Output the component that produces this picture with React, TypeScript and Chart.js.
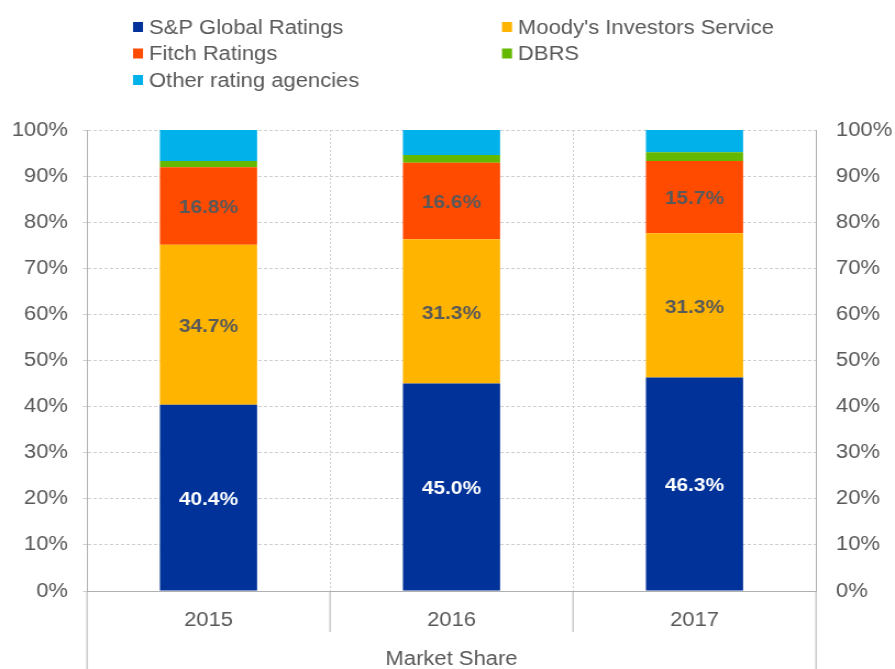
import React, { useEffect, useRef } from "react";
import { Chart, registerables } from "chart.js";

Chart.register(...registerables);

const categories = ["2015", "2016", "2017"];
const spValues = [40.4, 45.0, 46.3];
const moodysValues = [34.7, 31.3, 31.3];
const fitchValues = [16.8, 16.6, 15.7];
const dbrsValues = [1.4, 1.7, 1.9];
const otherValues = [6.7, 5.4, 4.8];
const seriesLabels = [
  "S&P Global Ratings",
  "Moody's Investors Service",
  "Fitch Ratings",
  "DBRS",
  "Other rating agencies",
];
const seriesColors = ["#003299", "#FFB400", "#FF4B00", "#65B800", "#00B1EA"];
const labelledSeries = [0, 1, 2];
const axisTitle = "Market Share";
const yMin = 0;
const yMax = 100;
const yStep = 10;

// The reference is rendered slightly wide: draw on a narrower canvas and stretch it horizontally.
const VIEW_W = 895;
const VIEW_H = 669;
const CANVAS_W = 814;
const SX = VIEW_W / CANVAS_W;
const px = (v: number) => v / SX; // display x-distance -> canvas x-distance

const FONT = "'Liberation Sans', Arial, sans-serif";
const TEXT = "#595959";
const GRID = "#cfcfcf";
const AXIS = "#b0b0b0";

const legendPlugin = {
  id: "gridLegend",
  afterDraw(chart: any) {
    const ctx = chart.ctx;
    const colX = [px(133), px(502)];
    const rowY = [27, 53.5, 80];
    ctx.save();
    ctx.font = `20px ${FONT}`;
    ctx.textBaseline = "middle";
    ctx.textAlign = "left";
    chart.data.datasets.forEach((ds: any, i: number) => {
      const x = colX[i % 2];
      const y = rowY[Math.floor(i / 2)];
      ctx.fillStyle = ds.backgroundColor;
      ctx.fillRect(x, y - 5, px(10), 10);
      ctx.fillStyle = TEXT;
      ctx.fillText(ds.label, x + px(16), y + 1);
    });
    ctx.restore();
  },
};

const separatorPlugin = {
  id: "separators",
  afterDraw(chart: any) {
    const ctx = chart.ctx;
    const xs = chart.scales.x;
    const area = chart.chartArea;
    ctx.save();
    ctx.strokeStyle = AXIS;
    ctx.lineWidth = 1;
    ctx.beginPath();
    for (let i = 0; i < categories.length - 1; i++) {
      const bx = (xs.getPixelForTick(i) + xs.getPixelForTick(i + 1)) / 2;
      ctx.moveTo(bx, area.bottom);
      ctx.lineTo(bx, area.bottom + 41);
    }
    [area.left, area.right].forEach((edge: number) => {
      ctx.moveTo(edge, area.bottom);
      ctx.lineTo(edge, chart.height);
    });
    ctx.stroke();
    ctx.restore();
  },
};

const valueLabelPlugin = {
  id: "valueLabels",
  afterDatasetsDraw(chart: any) {
    const ctx = chart.ctx;
    ctx.save();
    ctx.font = `bold 19px ${FONT}`;
    ctx.textAlign = "center";
    ctx.textBaseline = "middle";
    labelledSeries.forEach((di) => {
      const meta = chart.getDatasetMeta(di);
      const data = chart.data.datasets[di].data;
      meta.data.forEach((el: any, j: number) => {
        const p = el.getProps(["x", "y", "base"], true);
        ctx.fillStyle = di === 0 ? "#ffffff" : TEXT;
        ctx.fillText(`${Number(data[j]).toFixed(1)}%`, p.x, (p.y + p.base) / 2 + 2);
      });
    });
    ctx.restore();
  },
};

export default function App() {
  const canvasRef = useRef<HTMLCanvasElement | null>(null);

  useEffect(() => {
    if (!canvasRef.current) return;
    const values = [spValues, moodysValues, fitchValues, dbrsValues, otherValues];
    const chart = new Chart(canvasRef.current, {
      type: "bar",
      data: {
        labels: categories,
        datasets: values.map((v, i) => ({
          label: seriesLabels[i],
          data: v,
          backgroundColor: seriesColors[i],
          borderWidth: 0,
          yAxisID: "y",
          categoryPercentage: 1,
          barPercentage: 0.4,
        })),
      },
      options: {
        responsive: false,
        animation: false,
        devicePixelRatio: 1,
        layout: { padding: { top: 130, left: 0, right: 0, bottom: 0 } },
        plugins: {
          legend: { display: false },
          tooltip: { enabled: false },
          title: { display: false },
        },
        scales: {
          x: {
            stacked: true,
            offset: true,
            grid: {
              display: true,
              offset: true,
              drawOnChartArea: true,
              drawTicks: false,
              color: GRID,
            },
            border: { display: true, color: AXIS, dash: [2, 2] },
            ticks: {
              color: TEXT,
              font: { family: FONT, size: 20 },
              padding: 17,
            },
            title: {
              display: true,
              text: axisTitle,
              color: TEXT,
              font: { family: FONT, size: 20 },
              padding: { top: 0, bottom: -2 },
            },
            afterFit: (s: any) => {
              s.height = 78;
            },
          },
          y: {
            stacked: true,
            position: "left",
            min: yMin,
            max: yMax,
            grid: {
              color: GRID,
              drawTicks: true,
              tickLength: px(4),
            },
            border: { display: true, color: AXIS, dash: [3, 2] },
            ticks: {
              stepSize: yStep,
              color: TEXT,
              font: { family: FONT, size: 20 },
              padding: px(15),
              callback: (v: any) => `${v}%`,
            },
            afterFit: (s: any) => {
              s.width = px(87);
            },
          },
          y2: {
            position: "right",
            min: yMin,
            max: yMax,
            grid: { drawOnChartArea: false, drawTicks: false },
            border: { display: true, color: AXIS },
            ticks: {
              stepSize: yStep,
              color: TEXT,
              font: { family: FONT, size: 20 },
              padding: px(20),
              callback: (v: any) => `${v}%`,
            },
            afterFit: (s: any) => {
              s.width = px(VIEW_W - 816);
            },
          },
        },
      },
      plugins: [legendPlugin, separatorPlugin, valueLabelPlugin],
    } as any);
    return () => chart.destroy();
  }, []);

  return (
    <div
      style={{
        position: "fixed",
        left: 0,
        top: 0,
        width: VIEW_W,
        height: VIEW_H,
        background: "#ffffff",
        overflow: "hidden",
      }}
    >
      <canvas
        ref={canvasRef}
        width={CANVAS_W}
        height={VIEW_H}
        style={{ display: "block", width: `${VIEW_W}px`, height: `${VIEW_H}px` }}
      />
    </div>
  );
}
